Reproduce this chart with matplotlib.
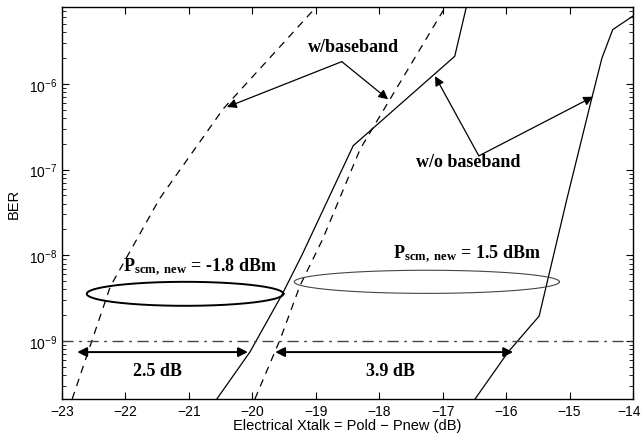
import numpy as np
import matplotlib
matplotlib.use("Agg")
import matplotlib.pyplot as plt
import matplotlib.transforms as mtransforms
from matplotlib.ticker import LogLocator, FixedLocator

plt.rcParams['font.family'] = ['Liberation Sans', 'DejaVu Sans']
plt.rcParams['mathtext.fontset'] = 'custom'
plt.rcParams['mathtext.rm'] = 'Liberation Serif:bold'
plt.rcParams['mathtext.it'] = 'Liberation Serif:bold'
plt.rcParams['mathtext.bf'] = 'Liberation Serif:bold'

# BER curves (x in dB, BER)
x_wb_low = [-22.84, -22.24, -21.46, -20.46, -18.98]
ber_wb_low = [2.1e-10, 4.3e-9, 4.6e-8, 5.1e-7, 8.1e-6]

x_wob_low = [-20.56, -20.04, -19.53, -19.22, -18.41, -16.81, -16.62]
ber_wob_low = [2.1e-10, 7.4e-10, 3.5e-9, 1.0e-8, 1.9e-7, 2.1e-6, 8.3e-6]

x_wb_high = [-19.96, -19.56, -19.25, -18.89, -18.30, -16.95]
ber_wb_high = [2.1e-10, 1.05e-9, 4.4e-9, 1.55e-8, 1.74e-7, 8.1e-6]

x_wob_high = [-16.49, -15.97, -15.48, -15.04, -14.65, -14.49, -14.32, -14.0]
ber_wob_high = [2.1e-10, 7.4e-10, 1.95e-9, 4.6e-8, 6.8e-7, 2.0e-6, 4.3e-6, 6.2e-6]

ber_limit = 1e-9
xticks = [-23, -22, -21, -20, -19, -18, -17, -16, -15, -14]

fig = plt.figure(figsize=(6.42, 4.39), dpi=100)
ax = fig.add_axes([0.0966, 0.0888, 0.8894, 0.893])
ax.set_yscale('log')
ax.set_xlim(-23, -14)
ax.set_ylim(2.1e-10, 7.9e-6)

ax.plot(x_wb_low, ber_wb_low, color='k', lw=0.9, ls=(0, (6, 5)))
ax.plot(x_wob_low, ber_wob_low, color='k', lw=0.9)
ax.plot(x_wb_high, ber_wb_high, color='k', lw=0.9, ls=(0, (6, 5)))
ax.plot(x_wob_high, ber_wob_high, color='k', lw=0.9)

# BER = 1e-9 reference
ax.axhline(ber_limit, color='#444444', lw=1.0, ls=(0, (8, 4, 2, 4)))

# ellipses marking each power group
t = np.linspace(0, 2 * np.pi, 300)
ax.plot(-21.06 + 1.55 * np.cos(t), 10 ** (-8.45 + 0.14 * np.sin(t)), color='k', lw=1.4)
ax.plot(-17.25 + 2.09 * np.cos(t), 10 ** (-8.31 + 0.135 * np.sin(t)), color='#444444', lw=0.8)

serif = dict(family=['Liberation Serif', 'DejaVu Serif'], fontweight='bold', fontsize=13)
ax.text(-20.82, 10 ** -8.13, r'P$_{\mathbf{scm,\ new}}$ = -1.8 dBm', ha='center', va='center', **serif)
ax.text(-16.62, 10 ** -7.98, r'P$_{\mathbf{scm,\ new}}$ = 1.5 dBm', ha='center', va='center', **serif)

# power penalty arrows
y_arr = 10 ** -9.13
hd = dict(arrowstyle='<|-|>', color='k', lw=1.4, mutation_scale=14, shrinkA=0, shrinkB=0)
ax.annotate('', xy=(-22.76, y_arr), xytext=(-20.07, y_arr), arrowprops=hd)
ax.annotate('', xy=(-19.64, y_arr), xytext=(-15.89, y_arr), arrowprops=hd)
ax.text(-21.5, 10 ** -9.35, '2.5 dB', ha='center', va='center', **serif)
ax.text(-17.83, 10 ** -9.35, '3.9 dB', ha='center', va='center', **serif)

# callouts
ap = dict(arrowstyle='-|>', color='k', lw=0.9, mutation_scale=14, shrinkA=0, shrinkB=0)
v1 = (-18.59, 10 ** -5.74)
ax.annotate('', xy=(-20.40, 10 ** -6.27), xytext=v1, arrowprops=ap)
ax.annotate('', xy=(-17.86, 10 ** -6.18), xytext=v1, arrowprops=ap)
ax.text(-18.41, 10 ** -5.56, 'w/baseband', ha='center', va='center', **serif)
v2 = (-16.43, 10 ** -6.84)
ax.annotate('', xy=(-17.12, 10 ** -5.91), xytext=v2, arrowprops=ap)
ax.annotate('', xy=(-14.63, 10 ** -6.15), xytext=v2, arrowprops=ap)
ax.text(-16.6, 10 ** -6.91, 'w/o baseband', ha='center', va='center', **serif)

ax.xaxis.set_major_locator(FixedLocator(xticks))
ax.yaxis.set_major_locator(LogLocator(base=10, numticks=20))
ax.yaxis.set_minor_locator(LogLocator(base=10, subs=np.arange(2, 10), numticks=20))
ax.tick_params(which='both', direction='in', top=True, right=True, labelsize=10)
ax.tick_params(which='major', length=5, width=0.8)
ax.tick_params(which='minor', length=3, width=0.6)
ax.xaxis.set_major_formatter(plt.FuncFormatter(lambda v, p: f'\u2212{abs(int(v))}'))

# keep the last x tick label inside the figure
fig.canvas.draw()
last = ax.get_xticklabels()[-1]
last.set_transform(last.get_transform() + mtransforms.ScaledTranslation(-4 / 100, 0, fig.dpi_scale_trans))

ax.set_xlabel('Electrical Xtalk = Pold \u2212 Pnew (dB)', fontsize=10.5, labelpad=0)
ax.set_ylabel('BER', fontsize=10.5)
ax.yaxis.set_label_coords(-0.072, 0.5)
for s in ax.spines.values():
    s.set_linewidth(1.0)

fig.savefig('out.png', dpi=100)
